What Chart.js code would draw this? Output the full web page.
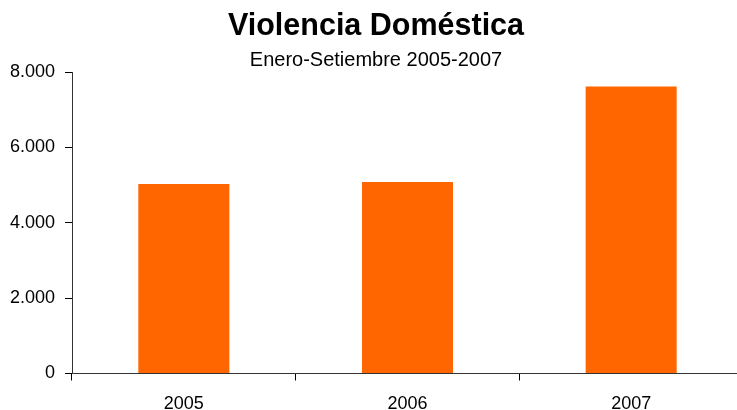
<!DOCTYPE html>
<html>
<head>
<meta charset="utf-8">
<script src="https://cdn.jsdelivr.net/npm/chart.js@4/dist/chart.umd.min.js"></script>
<style>
  html, body { margin: 0; padding: 0; background: #fff; overflow: hidden; }
  #wrap { width: 743px; height: 410px; position: relative; }
</style>
</head>
<body>
<div id="wrap"><canvas id="c" width="743" height="410"></canvas></div>
<script>
const categories = ['2005', '2006', '2007'];
const casos = [5033, 5086, 7618];
const yTicks = [0, 2000, 4000, 6000, 8000];
const titleText = 'Violencia Doméstica';
const subtitleText = 'Enero-Setiembre 2005-2007';

const fam = '"Liberation Sans", Arial, Helvetica, sans-serif';
function fmt(v) { return String(v).replace(/\B(?=(\d{3})+(?!\d))/g, '.'); }

new Chart(document.getElementById('c'), {
  type: 'bar',
  data: {
    labels: categories,
    datasets: [{
      label: 'Casos',
      data: casos,
      backgroundColor: '#FF6600',
      borderWidth: 0,
      categoryPercentage: 1.0,
      barPercentage: 0.407
    }]
  },
  options: {
    responsive: false,
    animation: false,
    devicePixelRatio: 1,
    layout: { padding: { left: 9, right: 0, top: 0, bottom: 0 } },
    plugins: {
      legend: { display: false },
      tooltip: { enabled: false },
      title: {
        display: true,
        text: titleText,
        color: '#000',
        font: { family: fam, size: 30.5, weight: 'bold', lineHeight: 1.2 },
        padding: { top: 8, bottom: 3.5 }
      },
      subtitle: {
        display: true,
        text: subtitleText,
        color: '#000',
        font: { family: fam, size: 20, weight: 'normal', lineHeight: 1.2 },
        padding: { top: 0, bottom: 0 }
      }
    },
    scales: {
      x: {
        offset: true,
        afterFit: (axis) => { axis.height = 36.5; },
        grid: { display: true, drawOnChartArea: false, drawTicks: true, tickLength: 7, color: '#000', offset: true },
        border: { display: true, color: '#333', width: 1 },
        ticks: { color: '#000', font: { family: fam, size: 18 }, padding: 13, maxRotation: 0 }
      },
      y: {
        min: 0,
        max: 8000,
        afterFit: (axis) => { axis.width = 63; },
        afterBuildTicks: (axis) => { axis.ticks = yTicks.map(v => ({ value: v })); },
        grid: { display: true, drawOnChartArea: false, drawTicks: true, tickLength: 7, color: '#000' },
        border: { display: true, color: '#333', width: 1 },
        ticks: { color: '#000', font: { family: fam, size: 18 }, padding: 10, callback: (v) => fmt(v) }
      }
    }
  }
});
</script>
</body>
</html>
